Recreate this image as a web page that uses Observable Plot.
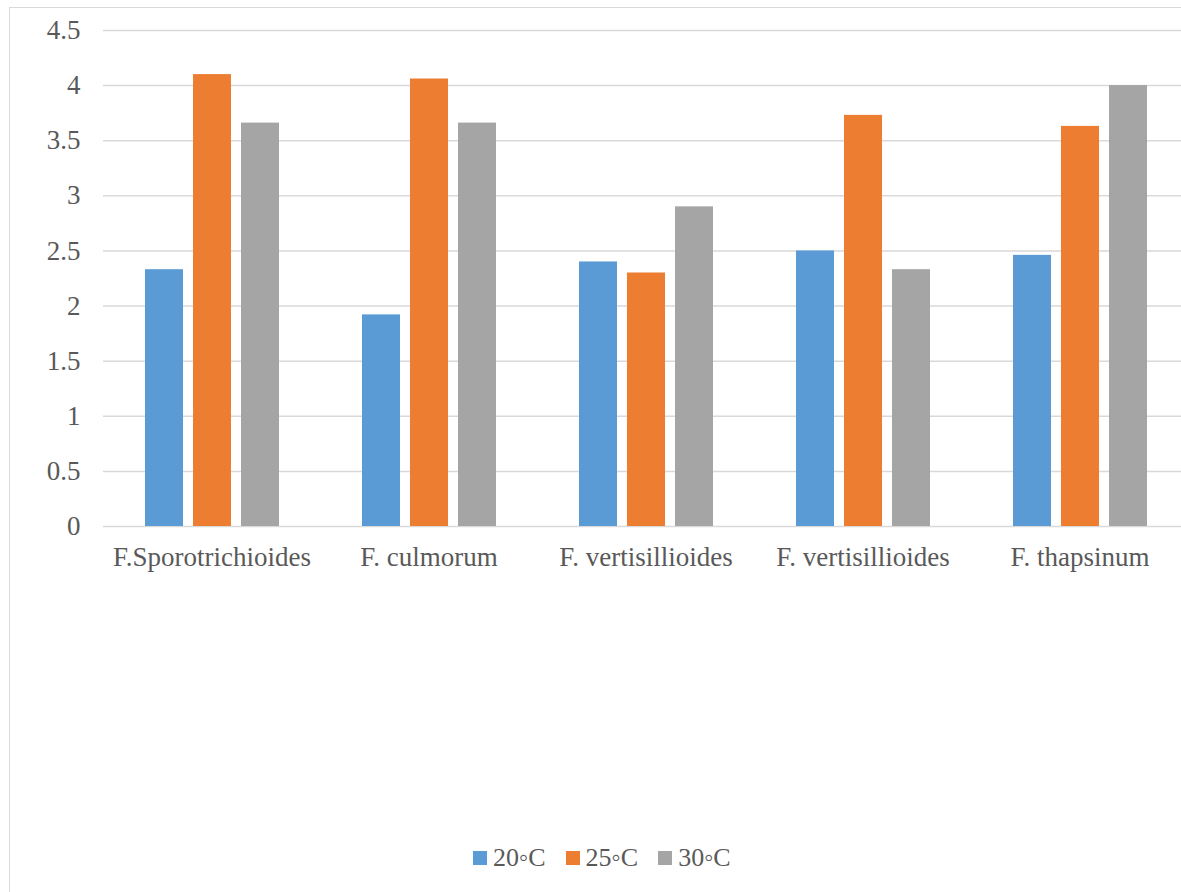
<!DOCTYPE html>
<html>
<head>
<meta charset="utf-8">
<script src="https://cdn.jsdelivr.net/npm/d3@7"></script>
<script src="https://cdn.jsdelivr.net/npm/@observablehq/plot@0.6"></script>
<style>
  html, body { margin: 0; padding: 0; background: #fff; }
  #chart { position: relative; width: 1181px; height: 892px; overflow: hidden; background: #fff; }
  #frame { position: absolute; left: 9px; top: 7px; width: 1200px; height: 920px; border: 1px solid #d9d9d9; box-sizing: border-box; }
  #plot { position: absolute; left: 0; top: 0; width: 1188px; }
  #plot svg { max-width: none !important; }
  #legend { position: absolute; left: 473px; top: 843px; display: flex; align-items: center;
            font-family: "Liberation Serif", "Times New Roman", serif; font-size: 26px; color: #595959; }
  .item { display: flex; align-items: center; margin-right: 20px; }
  .swatch { width: 14px; height: 14px; margin-right: 6px; }
</style>
</head>
<body>
<div id="chart">
  <div id="frame"></div>
  <div id="plot"></div>
  <div id="legend"></div>
</div>
<script>
// Fungal species (two groups share the same name, so bars are keyed by index)
const species = ["F.Sporotrichioides", "F. culmorum", "F. vertisillioides", "F. vertisillioides", "F. thapsinum"];
// Incubation temperatures
const series = ["20\u25E6C", "25\u25E6C", "30\u25E6C"];
const seriesColors = ["#5B9BD5", "#ED7D31", "#A5A5A5"];
// Values per species, one array per temperature
const values20 = [2.33, 1.92, 2.40, 2.50, 2.46];
const values25 = [4.10, 4.06, 2.30, 3.73, 3.63];
const values30 = [3.66, 3.66, 2.90, 2.33, 4.00];
const yTicks = [0, 0.5, 1, 1.5, 2, 2.5, 3, 3.5, 4, 4.5];

const serifFont = "Liberation Serif";

const valueSets = [values20, values25, values30];
const rows = [];
species.forEach((name, i) => {
  series.forEach((s, j) => rows.push({group: i, series: s, value: valueSets[j][i]}));
});

const chart = Plot.plot({
  width: 1188,
  height: 600,
  marginTop: 30,
  marginBottom: 74,
  marginLeft: 103,
  marginRight: 0,
  style: {fontFamily: serifFont, fontSize: "27px", color: "#595959", background: "transparent", maxWidth: "none"},
  fx: {domain: species.map((d, i) => i), padding: 0, axis: "bottom", label: null, tickSize: 0, tickPadding: 20, tickFormat: i => species[i]},
  x: {domain: series, paddingInner: 10 / 48, paddingOuter: 0.864, axis: null},
  y: {domain: [0, 4.5], ticks: yTicks, tickFormat: d => String(d), tickSize: 0, tickPadding: 23, label: null},
  color: {domain: series, range: seriesColors},
  marks: [
    Plot.ruleY(yTicks, {stroke: "#d9d9d9", strokeWidth: 1.5}),
    Plot.barY(rows, {fx: "group", x: "series", y: "value", fill: "series"})
  ]
});

// Put the serif face directly on every label
chart.querySelectorAll("g, text, tspan").forEach(el => {
  el.setAttribute("font-family", serifFont);
  el.style.setProperty("font-family", "'" + serifFont + "', serif", "important");
});
document.getElementById("plot").appendChild(chart);

const legend = document.getElementById("legend");
series.forEach((s, j) => {
  const item = document.createElement("div");
  item.className = "item";
  const sw = document.createElement("span");
  sw.className = "swatch";
  sw.style.background = seriesColors[j];
  const label = document.createElement("span");
  label.textContent = s;
  item.appendChild(sw);
  item.appendChild(label);
  legend.appendChild(item);
});
</script>
</body>
</html>
